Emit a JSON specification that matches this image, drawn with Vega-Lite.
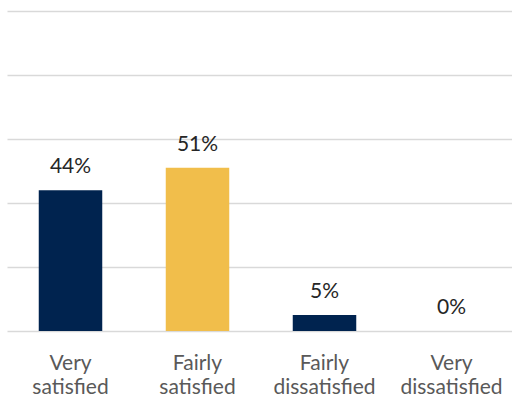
{
  "$schema": "https://vega.github.io/schema/vega-lite/v6.json",
  "width": 508,
  "height": 320,
  "autosize": {"type": "none"},
  "padding": {"left": 7, "top": 11, "right": 0, "bottom": 74},
  "background": "white",
  "config": {"view": {"stroke": null}, "font": "Lato"},
  "data": {"values": [
    {"category": "Very satisfied", "share": 0.44},
    {"category": "Fairly satisfied", "share": 0.51},
    {"category": "Fairly dissatisfied", "share": 0.05},
    {"category": "Very dissatisfied", "share": 0}
  ]},
  "encoding": {
    "x": {"field": "category", "type": "nominal", "sort": null,
      "scale": {"paddingInner": 0.5, "paddingOuter": 0.25},
      "axis": {"title": null, "labelAngle": 0, "domain": false, "ticks": false,
        "labelExpr": "split(datum.label, ' ')", "labelFont": "Lato", "labelFontSize": 21,
        "labelColor": "#595959", "labelLineHeight": 24, "labelPadding": 21, "labelBaseline": "top"}},
    "y": {"field": "share", "type": "quantitative",
      "scale": {"domain": [0, 1]},
      "axis": {"title": null, "labels": false, "ticks": false, "domain": false,
        "values": [0, 0.2, 0.4, 0.6, 0.8, 1], "grid": true, "gridColor": "#D9D9D9", "gridWidth": 1.5}}
  },
  "layer": [
    {"mark": {"type": "bar"},
     "encoding": {"color": {"condition": {"test": "datum.category == 'Fairly satisfied'", "value": "#F1BE4B"}, "value": "#00234F"}}},
    {"mark": {"type": "text", "baseline": "alphabetic", "dy": -17, "font": "Lato", "fontSize": 21, "color": "#262626"},
     "encoding": {"text": {"field": "share", "type": "quantitative", "format": ".0%"}}}
  ]
}
